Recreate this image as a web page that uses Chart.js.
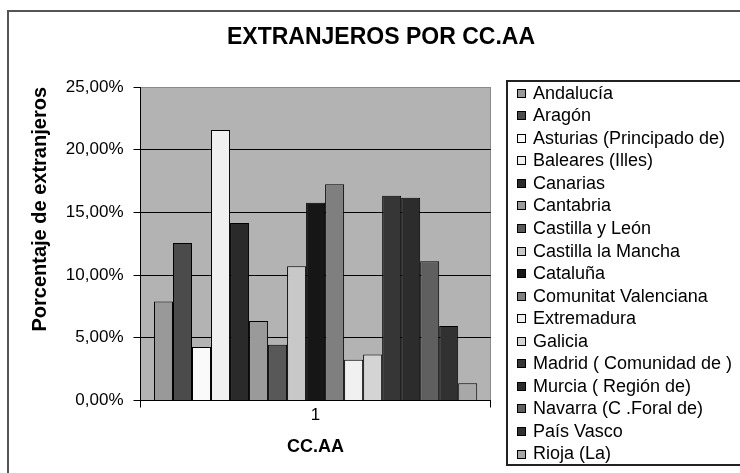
<!DOCTYPE html>
<html>
<head>
<meta charset="utf-8">
<script src="https://cdn.jsdelivr.net/npm/chart.js@4.4.1/dist/chart.umd.min.js"></script>
<style>
  html, body { margin: 0; padding: 0; background: #fff; overflow: hidden; }
  #wrap { width: 740px; height: 473px; position: relative; }
</style>
</head>
<body>
<div id="wrap"><canvas id="c" width="740" height="473"></canvas></div>
<script>
// ---- data ----
const categories = ['1'];
const regions = [
  'Andalucía', 'Aragón', 'Asturias (Principado de)', 'Baleares (Illes)', 'Canarias',
  'Cantabria', 'Castilla y León', 'Castilla la Mancha', 'Cataluña', 'Comunitat Valenciana',
  'Extremadura', 'Galicia', 'Madrid ( Comunidad de )', 'Murcia ( Región de)',
  'Navarra (C .Foral de)', 'País Vasco', 'Rioja (La)'
];
const percentages = [7.90, 12.56, 4.26, 21.57, 14.16, 6.34, 4.45, 10.70, 15.76, 17.25,
                     3.25, 3.67, 16.32, 16.16, 11.10, 5.94, 1.38];
const yTicks = [0, 5, 10, 15, 20, 25];

// ---- styles ----
const barColors = ['#999999', '#4b4b4b', '#fafafa', '#f0f0f0', '#2a2a2a', '#9a9a9a', '#585858',
                   '#c8c8c8', '#161616', '#7f7f7f', '#f0f0f0', '#d4d4d4', '#363636', '#2c2c2c',
                   '#5f5f5f', '#313131', '#a8a8a8'];
const FONT = "'Liberation Sans', Arial, sans-serif";

const datasets = regions.map((name, i) => ({
  label: name,
  data: [percentages[i]],
  backgroundColor: barColors[i],
  borderColor: '#000',
  borderWidth: 1,
  categoryPercentage: 0.923,
  barPercentage: 1.0
}));

const decorPlugin = {
  id: 'decor',
  afterLayout(chart) {
    // center the title over the whole canvas (incl. legend side)
    if (chart.titleBlock) {
      chart.titleBlock.left = 0;
      chart.titleBlock.right = 762;
      chart.titleBlock.width = 762;
    }
  },
  beforeDraw(chart) {
    const {ctx, chartArea: a} = chart;
    ctx.save();
    ctx.fillStyle = '#fff';
    ctx.fillRect(0, 0, chart.width, chart.height);
    ctx.fillStyle = '#b3b3b3';
    ctx.fillRect(a.left, a.top, a.right - a.left, a.bottom - a.top);
    ctx.restore();
  },
  afterDraw(chart) {
    const ctx = chart.ctx;
    ctx.save();
    // outer frame
    ctx.strokeStyle = '#555';
    ctx.lineWidth = 2;
    ctx.beginPath();
    ctx.moveTo(8, 480); ctx.lineTo(8, 11); ctx.lineTo(745, 11);
    ctx.stroke();
    // legend box
    ctx.strokeStyle = '#222';
    ctx.lineWidth = 2;
    ctx.beginPath();
    ctx.moveTo(745, 81); ctx.lineTo(507, 81); ctx.lineTo(507, 465); ctx.lineTo(745, 465);
    ctx.stroke();
    // legend items
    ctx.font = '18px ' + FONT;
    ctx.textBaseline = 'middle';
    ctx.textAlign = 'left';
    chart.data.datasets.forEach((ds, i) => {
      const y = 92.7 + i * 22.55;
      ctx.fillStyle = ds.backgroundColor;
      ctx.fillRect(517, Math.round(y) - 4, 9, 9);
      ctx.strokeStyle = '#000';
      ctx.lineWidth = 1;
      ctx.strokeRect(517.5, Math.round(y) - 3.5, 8, 8);
      ctx.fillStyle = '#000';
      ctx.fillText(ds.label, 533, y + 1);
    });
    ctx.restore();
  }
};

new Chart(document.getElementById('c'), {
  type: 'bar',
  data: { labels: categories, datasets },
  options: {
    responsive: false,
    animation: false,
    events: [],
    layout: { padding: { left: 0, right: 249.3, top: 0, bottom: 0 } },
    plugins: {
      legend: { display: false },
      tooltip: { enabled: false },
      title: {
        display: true,
        text: 'EXTRANJEROS POR CC.AA',
        color: '#000',
        font: { family: FONT, size: 23, weight: 'bold' },
        padding: { top: 24.2, bottom: 35.2 }
      }
    },
    scales: {
      x: {
        offset: true,
        afterFit(scale) { scale.height = 72.5; },
        grid: {
          display: true,
          offset: true,
          color: (ctx) => ctx.index === 0 ? '#000' : '#8a8a8a',
          tickColor: '#000',
          tickLength: 7,
          lineWidth: 1
        },
        border: { display: true, color: '#000', width: 1 },
        ticks: { color: '#000', font: { family: FONT, size: 17 }, padding: -2 },
        title: {
          display: true,
          text: 'CC.AA',
          color: '#000',
          font: { family: FONT, size: 18, weight: 'bold' },
          padding: { top: 0, bottom: 15.2 }
        }
      },
      y: {
        min: 0,
        max: 25,
        afterFit(scale) { scale.width = 140.5; },
        afterBuildTicks(scale) { scale.ticks = yTicks.map(v => ({ value: v })); },
        grid: {
          color: (ctx) => (ctx.tick && ctx.tick.value === 25) ? '#8a8a8a' : '#000',
          tickColor: '#000',
          tickLength: 7,
          lineWidth: 1
        },
        border: { display: true, color: '#000', width: 1 },
        ticks: {
          color: '#000',
          font: { family: FONT, size: 17 },
          padding: 10,
          callback: (v) => v.toFixed(2).replace('.', ',') + '%'
        },
        title: {
          display: true,
          text: 'Porcentaje de extranjeros',
          color: '#000',
          align: 'end',
          font: { family: FONT, size: 20, weight: 'bold' },
          padding: { top: 28, bottom: 0 }
        }
      }
    }
  },
  plugins: [decorPlugin]
});
</script>
</body>
</html>
